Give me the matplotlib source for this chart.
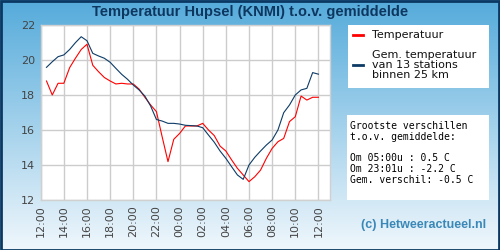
import numpy as np
import matplotlib
matplotlib.use("Agg")
import matplotlib.pyplot as plt
from matplotlib.patches import Rectangle

title = "Temperatuur Hupsel (KNMI) t.o.v. gemiddelde"
tick_labels = ["12:00", "14:00", "16:00", "18:00", "20:00", "22:00", "00:00",
               "02:00", "04:00", "06:00", "08:00", "10:00", "12:00"]
y_ticks = [12, 14, 16, 18, 20, 22]

# hours after 12:00, half-hourly readings
hours = np.arange(0.5, 24.01, 0.5)
temp_station = [18.8, 18.0, 18.67, 18.67, 19.56, 20.1, 20.6, 20.9, 19.7, 19.33,
                19.0, 18.8, 18.63, 18.67, 18.63, 18.63, 18.34, 17.87, 17.43, 17.05,
                15.6, 14.19, 15.47, 15.8, 16.23, 16.23, 16.23, 16.38, 16.0, 15.68,
                15.08, 14.8, 14.29, 13.81, 13.43, 13.05, 13.33, 13.71, 14.38, 14.95,
                15.33, 15.52, 16.48, 16.76, 17.94, 17.71, 17.87, 17.87]
temp_mean = [19.58, 19.9, 20.19, 20.29, 20.6, 20.99, 21.33, 21.1, 20.38, 20.23,
             20.1, 19.87, 19.52, 19.18, 18.9, 18.57, 18.29, 17.94, 17.37, 16.6,
             16.51, 16.38, 16.38, 16.34, 16.27, 16.25, 16.23, 16.13, 15.71, 15.3,
             14.8, 14.38, 13.9, 13.43, 13.18, 14.0, 14.44, 14.8, 15.14, 15.43,
             16.0, 16.99, 17.43, 18.0, 18.29, 18.38, 19.28, 19.19]

legend_station = "Temperatuur"
legend_mean = "Gem. temperatuur\nvan 13 stations\nbinnen 25 km"
info_text = ("Grootste verschillen\nt.o.v. gemiddelde:\n\n"
             "Om 05:00u : 0.5 C\nOm 23:01u : -2.2 C\nGem. verschil: -0.5 C")
credit = "(c) Hetweeractueel.nl"

W, H = 500, 250
fig = plt.figure(figsize=(5, 2.5), dpi=100)

# background gradient
bg = fig.add_axes([0, 0, 1, 1], zorder=-10)
top = np.array([0x55, 0xab, 0xdb]) / 255
bot = np.array([0xf0, 0xf7, 0xfc]) / 255
t = np.linspace(0, 1, 256)[:, None]
grad = top[None, :] * (1 - t) + bot[None, :] * t
bg.imshow(grad[:, None, :], aspect="auto", extent=[0, 1, 0, 1])
bg.set_axis_off()

# border
fig.patches.append(Rectangle((0.5 / W, 0.5 / H), 1 - 1.5 / W, 1 - 1.5 / H,
                             transform=fig.transFigure, fill=False,
                             edgecolor="#0b3862", linewidth=2, zorder=5))

fig.text(0.5, 1 - 12 / H, title, ha="center", va="center",
         fontsize=10.5, fontweight="bold", color="#0e3760",
         family=["Liberation Sans", "DejaVu Sans"])

ax = fig.add_axes([40.7 / W, 50 / H, (330 - 40.7) / W, 175 / H])
ax.set_facecolor("white")
ax.plot(hours, temp_station, color="#ff0000", lw=0.8, zorder=3)
ax.plot(hours, temp_mean, color="#0d3b66", lw=0.8, zorder=3)
ax.set_xlim(0, 25)
ax.set_ylim(12, 22)
ax.set_xticks(np.arange(0, 25, 2))
ax.set_xticklabels(tick_labels, rotation=90)
ax.set_yticks(y_ticks)
ax.grid(True, color="#cccccc", lw=1)
ax.set_axisbelow(True)
for s in ax.spines.values():
    s.set_color("#d0d0d0")
    s.set_linewidth(1)
ax.tick_params(length=0, labelsize=8, labelcolor="#444444", pad=4)

# legend box
fig.patches.append(Rectangle((348 / W, 1 - 88 / H), 141 / W, 63 / H,
                             transform=fig.transFigure, facecolor="white",
                             edgecolor="none", zorder=1))
fig.lines.append(plt.Line2D([353 / W, 363 / W], [1 - 35 / H] * 2,
                            transform=fig.transFigure, color="#ff0000", lw=2))
fig.lines.append(plt.Line2D([353 / W, 363 / W], [1 - 65 / H] * 2,
                            transform=fig.transFigure, color="#0d3b66", lw=2))
fig.text(372 / W, 1 - 35 / H, legend_station, fontsize=8, va="center", color="#111111")
fig.text(372 / W, 1 - 65 / H, legend_mean, fontsize=8, va="center",
         color="#111111", linespacing=0.95)

# info box
fig.patches.append(Rectangle((347 / W, 1 - 200 / H), 142 / W, 85 / H,
                             transform=fig.transFigure, facecolor="white",
                             edgecolor="none", zorder=1))
fig.text(350 / W, 1 - 121 / H, info_text, fontsize=7, va="top",
         family="DejaVu Sans Mono", color="#000000", linespacing=1.1)

fig.text(424 / W, 1 - 225 / H, credit, ha="center", va="center", fontsize=9,
         fontweight="bold", color="#3a88b8", family=["Liberation Sans", "DejaVu Sans"])

fig.savefig("out.png", dpi=100)
